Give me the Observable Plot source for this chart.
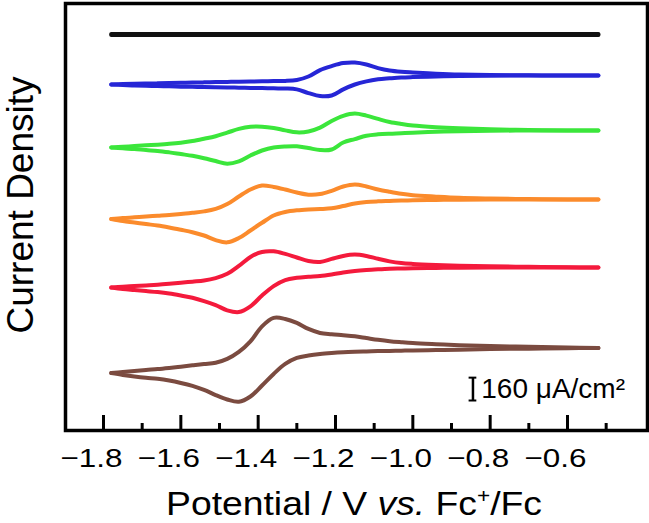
<!DOCTYPE html>
<html>
<head>
<meta charset="utf-8">
<script src="https://cdn.jsdelivr.net/npm/d3@7"></script>
<script src="https://cdn.jsdelivr.net/npm/@observablehq/plot@0.6"></script>
<style>
  body { margin: 0; background: #fff; }
  #chart svg { display: block; }
</style>
</head>
<body>
<div id="chart"></div>
<script>
// Potential grid (V vs. Fc+/Fc)
const potentials = [-1.78, -1.75, -1.72, -1.69, -1.66, -1.63, -1.60, -1.57, -1.54, -1.51,
  -1.48, -1.45, -1.42, -1.39, -1.36, -1.33, -1.30, -1.27, -1.24, -1.21,
  -1.18, -1.15, -1.12, -1.09, -1.06, -1.03, -1.00, -0.94, -0.88, -0.80,
  -0.70, -0.60, -0.52];

// Curves (top to bottom) and their vertical offsets (µA/cm²)
const curves = ["1", "2", "3", "4", "5", "6"];
const colors = ["#111111", "#2626d6", "#3be63b", "#fb8b2c", "#f41a3c", "#7b4b40"];
const offsets = [2772, 2485, 2100, 1617, 1141, 578];

// Current density relative to offset (µA/cm²): return (anodic) branch
const black_up  = [4,4,4,4,4,4,4,4,4,4,4,4,4,4,4,4,4,4,4,4,4,4,4,4,4,4,4,4,4,4,4,4,4];
const blue_up   = [-63,-60,-58,-56,-55,-53,-51,-49,-48,-46,-45,-43,-42,-41,-39,-38,-31,-7,38,66,87,91,77,52,35,26,21,13,7,3,1,0,0];
const green_up  = [-119,-114,-109,-104,-99,-93,-85,-74,-58,-40,-15,11,26,27,18,1,-13,-7,20,67,103,119,104,81,60,46,35,23,15,8,4,0,0];
const orange_up = [-137,-130,-125,-119,-114,-109,-102,-93,-83,-66,-32,21,70,98,88,70,49,34,38,61,91,105,91,70,54,40,30,20,12,7,3,0,0];
const red_up    = [-140,-134,-129,-126,-120,-114,-107,-99,-91,-74,-44,11,74,109,113,95,70,46,39,60,81,91,81,61,43,31,25,18,13,8,5,1,0];
const brown_up  = [-176,-168,-161,-154,-148,-140,-131,-122,-113,-104,-77,-28,46,151,210,203,175,133,105,96,89,81,69,57,47,40,34,26,19,13,8,3,0];

// Forward (cathodic) branch
const black_down  = [-4,-4,-4,-4,-4,-4,-4,-4,-4,-4,-4,-4,-4,-4,-4,-4,-4,-4,-4,-4,-4,-4,-4,-4,-4,-4,-4,-4,-4,-4,-4,-4,-4];
const blue_down   = [-63,-67,-70,-72,-74,-76,-78,-79,-81,-83,-84,-85,-87,-88,-90,-91,-97,-123,-144,-140,-97,-63,-41,-27,-20,-14,-11,-7,-3,-1,0,0,0];
const green_down  = [-119,-125,-130,-137,-143,-153,-165,-177,-194,-214,-232,-216,-175,-140,-119,-112,-111,-123,-137,-133,-84,-60,-37,-27,-22,-19,-15,-9,-6,-2,0,0,0];
const orange_down = [-137,-151,-161,-172,-182,-196,-212,-229,-252,-284,-300,-270,-217,-163,-112,-88,-76,-70,-67,-62,-46,-28,-18,-13,-10,-7,-6,-3,-1,0,0,0,0];
const red_down    = [-140,-151,-158,-165,-172,-182,-196,-212,-235,-263,-300,-312,-272,-196,-130,-88,-72,-65,-60,-49,-35,-25,-18,-13,-9,-7,-5,-3,-1,0,0,0,0];
const brown_down  = [-176,-189,-200,-209,-216,-228,-245,-266,-294,-330,-361,-377,-340,-263,-182,-112,-70,-53,-42,-35,-30,-27,-25,-22,-21,-19,-18,-15,-12,-8,-5,-2,0];

const anodic = [black_up, blue_up, green_up, orange_up, red_up, brown_up];
const cathodic = [black_down, blue_down, green_down, orange_down, red_down, brown_down];

// Axis ticks
const majorTicks = [-1.8, -1.6, -1.4, -1.2, -1.0, -0.8, -0.6];
const minorTicks = [-1.7, -1.5, -1.3, -1.1, -0.9, -0.7, -0.5];

const rows = [];
curves.forEach((c, i) => {
  potentials.forEach((E, j) => {
    rows.push({curve: c, key: c + "up", E, v: offsets[i] + anodic[i][j]});
  });
  potentials.forEach((E, j) => {
    rows.push({curve: c, key: c + "down", E, v: offsets[i] + cathodic[i][j]});
  });
});

const W = 649, H = 523;
const mT = 3, mB = 93, mL = 65, mR = 2;
const innerH = H - mT - mB;

const plot = Plot.plot({
  width: W,
  height: H,
  marginLeft: mL, marginRight: mR, marginTop: mT, marginBottom: mB,
  x: {domain: [-1.8983, -0.3931], axis: null},
  y: {domain: [0, 2989], axis: null},
  color: {domain: curves, range: colors},
  style: {fontFamily: "'Liberation Sans', Arial, Helvetica, sans-serif", color: "black", background: "white"},
  marks: [
    Plot.line(rows, {x: "E", y: "v", z: "key", stroke: "curve", strokeWidth: 4,
      curve: "catmull-rom", strokeLinecap: "round", strokeLinejoin: "round"}),
    Plot.ruleX(majorTicks, {insetTop: innerH - 15, stroke: "black", strokeWidth: 3}),
    Plot.ruleX(minorTicks, {insetTop: innerH - 7, stroke: "black", strokeWidth: 3}),
    Plot.frame({stroke: "black", strokeWidth: 3.5}),
    Plot.axisX(majorTicks, {anchor: "bottom", tickSize: 0, tickPadding: 18, fontSize: 26,
      tickFormat: d => "\u2212" + Math.abs(d).toFixed(1), dx: -12, label: null, fill: "black"}),
    // scale bar: 160 µA/cm²
    Plot.ruleX([-0.8445], {y1: 210, y2: 370, stroke: "black", strokeWidth: 2.5}),
    Plot.ruleY([210, 370], {x1: -0.8545, x2: -0.8345, stroke: "black", strokeWidth: 2}),
    Plot.text(["160 \u03bcA/cm\u00b2"], {text: d => d, x: -0.823, y: 287, textAnchor: "start",
      fontSize: 28, fill: "black"})
  ]
});

const svg = d3.select(plot);
svg.selectAll('g[aria-label="x-axis tick label"]').attr("font-size", 26);
svg.selectAll('g[aria-label="x-axis tick label"] text')
  .style("font-size", "26px")
  .attr("textLength", 62)
  .attr("lengthAdjust", "spacingAndGlyphs");

const xt = svg.append("text")
  .attr("x", 354).attr("y", 515)
  .attr("text-anchor", "middle")
  .attr("font-size", 33)
  .attr("fill", "black")
  .attr("textLength", 376)
  .attr("lengthAdjust", "spacingAndGlyphs");
xt.append("tspan").text("Potential / V ");
xt.append("tspan").attr("font-style", "italic").text("vs.");
xt.append("tspan").text(" Fc");
xt.append("tspan").attr("font-size", 20).attr("dy", -12).text("+");
xt.append("tspan").attr("dy", 12).text("/Fc");

svg.append("text")
  .attr("transform", "translate(33,205) rotate(-90)")
  .attr("text-anchor", "middle")
  .attr("font-size", 37)
  .attr("fill", "black")
  .text("Current Density");

document.getElementById("chart").appendChild(plot);
</script>
</body>
</html>
